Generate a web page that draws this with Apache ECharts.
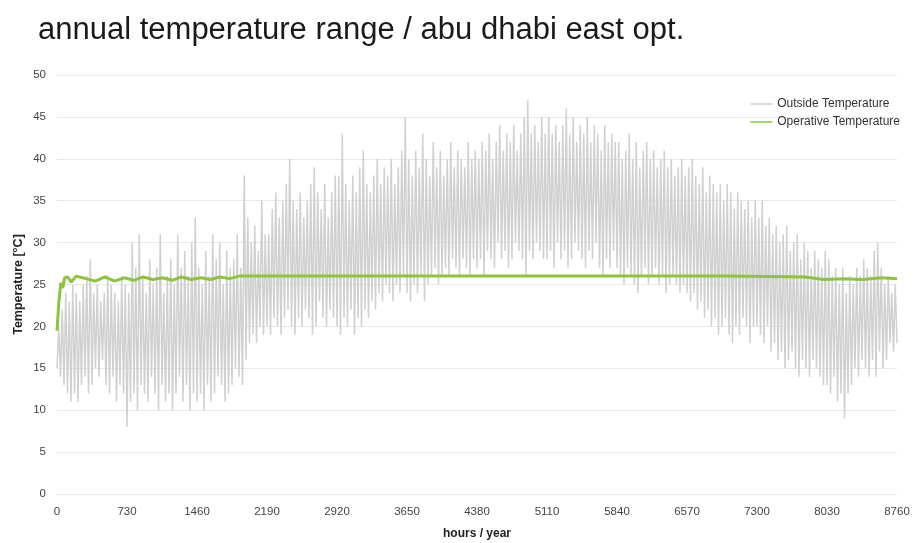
<!DOCTYPE html>
<html>
<head>
<meta charset="utf-8">
<script src="https://cdn.jsdelivr.net/npm/echarts@6/dist/echarts.min.js"></script>
<style>
  html, body { margin: 0; padding: 0; background: #fff; }
  #container { width: 919px; height: 543px; }
</style>
</head>
<body>
<div id="container"></div>
<script>
// x axis ticks (hours / year)
let hourTicks = [0, 730, 1460, 2190, 2920, 3650, 4380, 5110, 5840, 6570, 7300, 8030, 8760];

// outside temperature: a low every 36.5 h, a high half a step later
// one row per 730 h block
let outsideLows = [
    15, 14, 13, 12, 11, 12, 11, 13, 14, 12, 13, 15, 14, 16, 13, 12, 14, 11, 13, 12,
    8, 11, 12, 10, 13, 12, 11, 14, 12, 10, 13, 11, 12, 10, 12, 14, 11, 13, 10, 12,
    11, 12, 10, 13, 11, 12, 14, 13, 11, 12, 13, 15, 14, 13, 16, 18, 19, 18, 20, 19,
    20, 19, 21, 20, 19, 21, 22, 20, 19, 21, 20, 22, 21, 19, 20, 23, 21, 20, 22, 21,
    20, 19, 21, 20, 22, 19, 21, 20, 22, 21, 23, 22, 24, 23, 25, 24, 23, 25, 24, 26,
    24, 23, 25, 24, 26, 23, 25, 26, 27, 25, 26, 27, 26, 28, 27, 26, 28, 27, 26, 28,
    27, 28, 26, 29, 28, 27, 30, 28, 29, 27, 28, 30, 29, 28, 26, 29, 28, 30, 29, 28,
    28, 29, 27, 30, 28, 29, 27, 28, 30, 29, 28, 27, 29, 28, 30, 27, 26, 28, 27, 29,
    27, 26, 25, 27, 26, 25, 24, 26, 27, 25, 26, 27, 25, 26, 24, 25, 26, 25, 24, 25,
    24, 23, 24, 22, 23, 21, 22, 20, 21, 19, 20, 21, 19, 18, 20, 19, 21, 20, 18, 20,
    20, 19, 18, 20, 17, 18, 16, 17, 15, 16, 17, 15, 14, 16, 15, 14, 16, 15, 14, 13,
    13, 12, 14, 11, 12, 9, 12, 13, 15, 14, 16, 15, 14, 16, 14, 17, 15, 16, 18, 17,
    18
];
let outsideHighs = [
    20, 22, 24, 23, 25, 24, 23, 25, 26, 28, 24, 25, 23, 24, 26, 25, 24, 23, 26, 25,
    24, 30, 27, 31, 26, 24, 28, 25, 27, 31, 24, 26, 28, 25, 31, 27, 29, 26, 30, 33,
    27, 25, 29, 26, 31, 28, 30, 25, 29, 27, 28, 31, 27, 38, 33, 30, 32, 29, 35, 31,
    31, 34, 36, 33, 35, 37, 40, 35, 34, 36, 33, 35, 37, 39, 36, 34, 37, 33, 36, 38,
    38, 43, 37, 35, 38, 36, 39, 41, 37, 36, 38, 40, 37, 39, 38, 40, 37, 39, 41, 45,
    40, 38, 41, 39, 43, 40, 38, 42, 39, 41, 38, 40, 42, 39, 41, 40, 39, 42, 40, 41,
    40, 42, 41, 43, 40, 42, 44, 41, 43, 42, 44, 41, 43, 45, 47, 43, 44, 42, 45, 43,
    45, 43, 44, 42, 44, 46, 43, 45, 42, 44, 43, 45, 42, 44, 43, 41, 44, 42, 43, 42,
    42, 40, 41, 43, 40, 42, 39, 41, 42, 40, 41, 39, 40, 41, 39, 40, 38, 39, 40, 38,
    39, 40, 38, 37, 39, 36, 38, 37, 36, 37, 35, 37, 36, 34, 36, 35, 34, 35, 33, 35,
    33, 35, 32, 33, 31, 32, 30, 31, 32, 29, 30, 31, 28, 30, 29, 27, 29, 28, 27, 29,
    28, 26, 27, 25, 27, 24, 26, 25, 27, 26, 28, 27, 26, 29, 30, 27, 25, 26, 24, 25
];
let outsideStep = 36.5;

// operative temperature
let operativeHours = [0, 20, 40, 60, 80, 110, 150, 200, 300, 400, 500, 600, 700, 800, 900, 1000, 1100, 1200, 1300, 1400, 1500, 1600, 1700, 1800, 1900, 2100, 3000, 4000, 5000, 6000, 7000, 7800, 8000, 8200, 8400, 8600, 8760];
let operativeTemps = [19.5, 23, 25.2, 24.6, 25.8, 25.9, 25.3, 26, 25.7, 25.4, 25.9, 25.4, 25.8, 25.5, 25.9, 25.6, 25.8, 25.5, 25.9, 25.6, 25.8, 25.6, 25.9, 25.7, 26, 26, 26, 26, 26, 26, 26, 25.9, 25.6, 25.7, 25.6, 25.8, 25.7];

let outsideData = [];
for (let i = 0; i < outsideLows.length; i++) {
    outsideData.push([i * outsideStep, outsideLows[i]]);
    if (i < outsideHighs.length) outsideData.push([i * outsideStep + outsideStep / 2, outsideHighs[i]]);
}
let operativeData = operativeHours.map((h, i) => [h, operativeTemps[i]]);

var dom = document.getElementById('container');
var myChart = echarts.init(dom, null, { renderer: 'canvas' });

var font = 'Liberation Sans, Arial, Helvetica, sans-serif';

var option = {
    backgroundColor: '#fff',
    animation: false,
    textStyle: { fontFamily: font },
    title: {
        text: 'annual temperature range / abu dhabi east opt.',
        left: 33,
        top: 10,
        textStyle: { fontSize: 31, fontWeight: 'normal', color: '#1a1a1a', fontFamily: font }
    },
    legend: {
        orient: 'vertical',
        right: 14,
        top: 93,
        itemWidth: 22,
        itemHeight: 1.5,
        itemGap: 6,
        icon: 'rect',
        textStyle: { fontSize: 12, color: '#333', fontFamily: font },
        data: ['Outside Temperature', 'Operative Temperature']
    },
    grid: { left: 57, right: 22, top: 75, bottom: 49, outerBoundsMode: 'none' },
    xAxis: {
        type: 'value',
        min: 0,
        max: 8760,
        interval: 730,
        name: 'hours / year',
        nameLocation: 'middle',
        nameGap: 34,
        nameTextStyle: { fontSize: 12, fontWeight: 'bold', color: '#222' },
        axisLine: { show: false },
        axisTick: { show: false },
        splitLine: { show: false },
        axisLabel: {
            fontSize: 11.5, color: '#444', margin: 12, showMaxLabel: true,
            formatter: v => String(v)
        }
    },
    yAxis: {
        type: 'value',
        min: 0,
        max: 50,
        interval: 5,
        name: 'Temperature [°C]',
        nameLocation: 'middle',
        nameGap: 32,
        nameMoveOverlap: false,
        nameTextStyle: { fontSize: 12.5, fontWeight: 'bold', color: '#222' },
        axisLine: { show: false },
        axisTick: { show: false },
        splitLine: { lineStyle: { color: '#e8e8e8', width: 1 } },
        axisLabel: { fontSize: 11.5, color: '#444', margin: 11 }
    },
    series: [
        {
            name: 'Outside Temperature',
            type: 'line',
            data: outsideData,
            showSymbol: false,
            color: '#d0d0d0',
            lineStyle: { color: '#d0d0d0', width: 1.5 }
        },
        {
            name: 'Operative Temperature',
            type: 'line',
            data: operativeData,
            showSymbol: false,
            color: '#8cc43c',
            lineStyle: { color: '#8cc43c', width: 3 }
        }
    ]
};

myChart.setOption(option);
window.addEventListener('resize', myChart.resize);
</script>
</body>
</html>
